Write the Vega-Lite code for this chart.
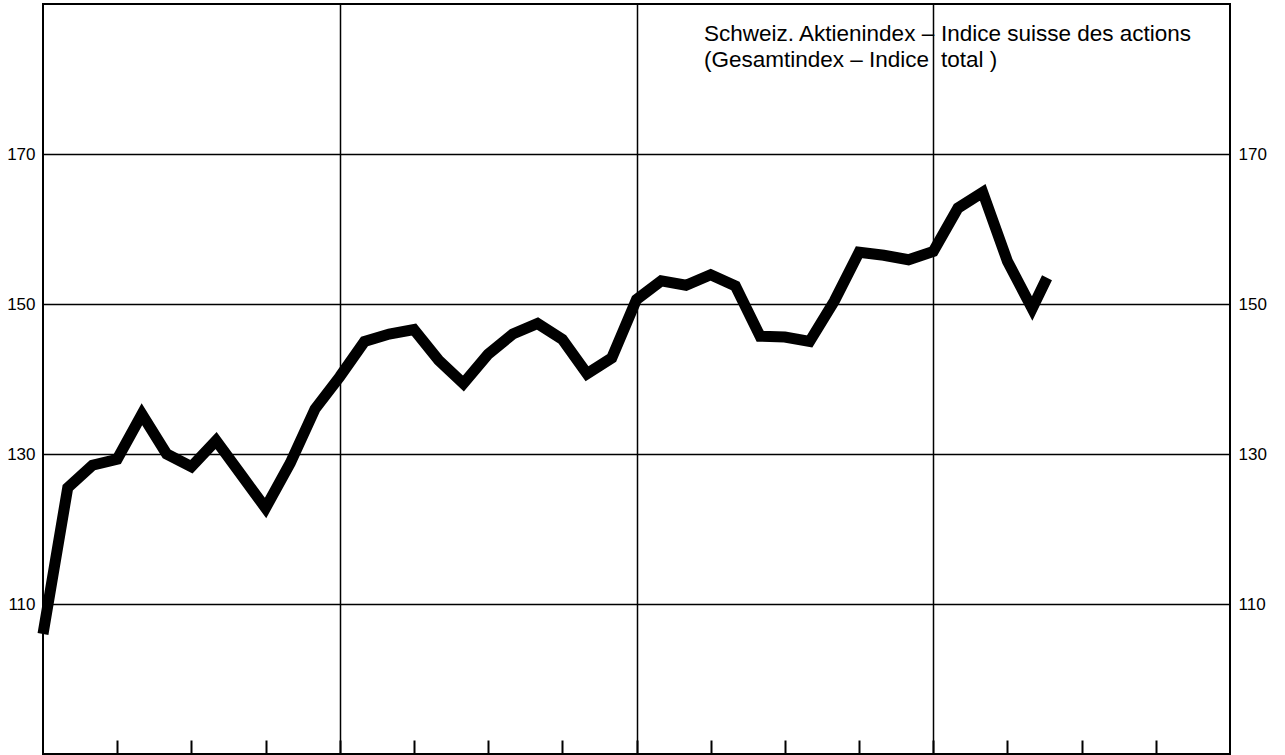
{
  "$schema": "https://vega.github.io/schema/vega-lite/v6.json",
  "width": 1187,
  "height": 750,
  "autosize": {"type": "none"},
  "padding": {"left": 43, "top": 4, "right": 55, "bottom": 1},
  "background": "white",
  "config": {
    "font": "Liberation Sans",
    "view": {"stroke": "black", "strokeWidth": 2}
  },
  "data": {"values": [
    {"month": 0, "index": 106.0},
    {"month": 1, "index": 125.5},
    {"month": 2, "index": 128.5},
    {"month": 3, "index": 129.3},
    {"month": 4, "index": 135.3},
    {"month": 5, "index": 130.0},
    {"month": 6, "index": 128.3},
    {"month": 7, "index": 131.8},
    {"month": 8, "index": 127.3},
    {"month": 9, "index": 122.8},
    {"month": 10, "index": 128.8},
    {"month": 11, "index": 136.0},
    {"month": 12, "index": 140.3},
    {"month": 13, "index": 145.0},
    {"month": 14, "index": 146.0},
    {"month": 15, "index": 146.6},
    {"month": 16, "index": 142.5},
    {"month": 17, "index": 139.4},
    {"month": 18, "index": 143.3},
    {"month": 19, "index": 146.0},
    {"month": 20, "index": 147.4},
    {"month": 21, "index": 145.3},
    {"month": 22, "index": 140.7},
    {"month": 23, "index": 142.8},
    {"month": 24, "index": 150.6},
    {"month": 25, "index": 153.1},
    {"month": 26, "index": 152.5},
    {"month": 27, "index": 153.9},
    {"month": 28, "index": 152.4},
    {"month": 29, "index": 145.7},
    {"month": 30, "index": 145.6},
    {"month": 31, "index": 145.0},
    {"month": 32, "index": 150.4},
    {"month": 33, "index": 156.9},
    {"month": 34, "index": 156.5},
    {"month": 35, "index": 155.9},
    {"month": 36, "index": 157.0},
    {"month": 37, "index": 162.8},
    {"month": 38, "index": 164.9},
    {"month": 39, "index": 155.7},
    {"month": 40, "index": 149.4},
    {"month": 40.6, "index": 153.5}
  ]},
  "layer": [
    {
      "mark": {"type": "line", "color": "black", "strokeWidth": 11, "strokeJoin": "miter", "strokeCap": "butt"},
      "encoding": {
        "x": {
          "field": "month", "type": "quantitative",
          "scale": {"domain": [0, 48], "nice": false, "zero": false},
          "axis": {
            "values": [3, 6, 9, 12, 15, 18, 21, 24, 27, 30, 33, 36, 39, 42, 45],
            "title": null, "labels": false, "domain": false,
            "ticks": true, "tickSize": -14, "tickColor": "black", "tickWidth": 2,
            "grid": true, "gridColor": "black", "gridWidth": 1.5,
            "gridOpacity": {"condition": {"test": "datum.value % 12 === 0", "value": 1}, "value": 0}
          }
        },
        "y": {
          "field": "index", "type": "quantitative",
          "scale": {"domain": [90, 190], "nice": false, "zero": false},
          "axis": {
            "orient": "left", "values": [110, 130, 150, 170], "title": null,
            "ticks": false, "domain": false, "grid": true, "gridColor": "black", "gridWidth": 1.5,
            "labelFontSize": 17, "labelColor": "black", "labelPadding": 8, "labelFont": "Liberation Sans"
          }
        }
      }
    },
    {
      "mark": {"type": "line", "opacity": 0},
      "encoding": {
        "x": {"field": "month", "type": "quantitative"},
        "y": {
          "field": "index", "type": "quantitative",
          "axis": {
            "orient": "right", "values": [110, 130, 150, 170], "title": null,
            "ticks": false, "domain": false, "grid": false,
            "labelFontSize": 17, "labelColor": "black", "labelPadding": 8, "labelFont": "Liberation Sans"
          }
        }
      }
    },
    {
      "data": {"values": [{}]},
      "mark": {"type": "text", "align": "left", "baseline": "alphabetic", "fontSize": 22.5, "color": "black", "font": "Liberation Sans"},
      "encoding": {
        "x": {"datum": 26.73, "type": "quantitative"},
        "y": {"datum": 185.1, "type": "quantitative", "axis": null},
        "text": {"value": "Schweiz. Aktienindex –"}
      }
    },
    {
      "data": {"values": [{}]},
      "mark": {"type": "text", "align": "left", "baseline": "alphabetic", "fontSize": 22.5, "color": "black", "font": "Liberation Sans"},
      "encoding": {
        "x": {"datum": 36.31, "type": "quantitative"},
        "y": {"datum": 185.1, "type": "quantitative", "axis": null},
        "text": {"value": "Indice suisse des actions"}
      }
    },
    {
      "data": {"values": [{}]},
      "mark": {"type": "text", "align": "left", "baseline": "alphabetic", "fontSize": 22.5, "color": "black", "font": "Liberation Sans"},
      "encoding": {
        "x": {"datum": 26.73, "type": "quantitative"},
        "y": {"datum": 181.6, "type": "quantitative", "axis": null},
        "text": {"value": "(Gesamtindex – Indice"}
      }
    },
    {
      "data": {"values": [{}]},
      "mark": {"type": "text", "align": "left", "baseline": "alphabetic", "fontSize": 22.5, "color": "black", "font": "Liberation Sans"},
      "encoding": {
        "x": {"datum": 36.31, "type": "quantitative"},
        "y": {"datum": 181.6, "type": "quantitative", "axis": null},
        "text": {"value": "total )"}
      }
    }
  ],
  "resolve": {"axis": {"y": "independent"}}
}
